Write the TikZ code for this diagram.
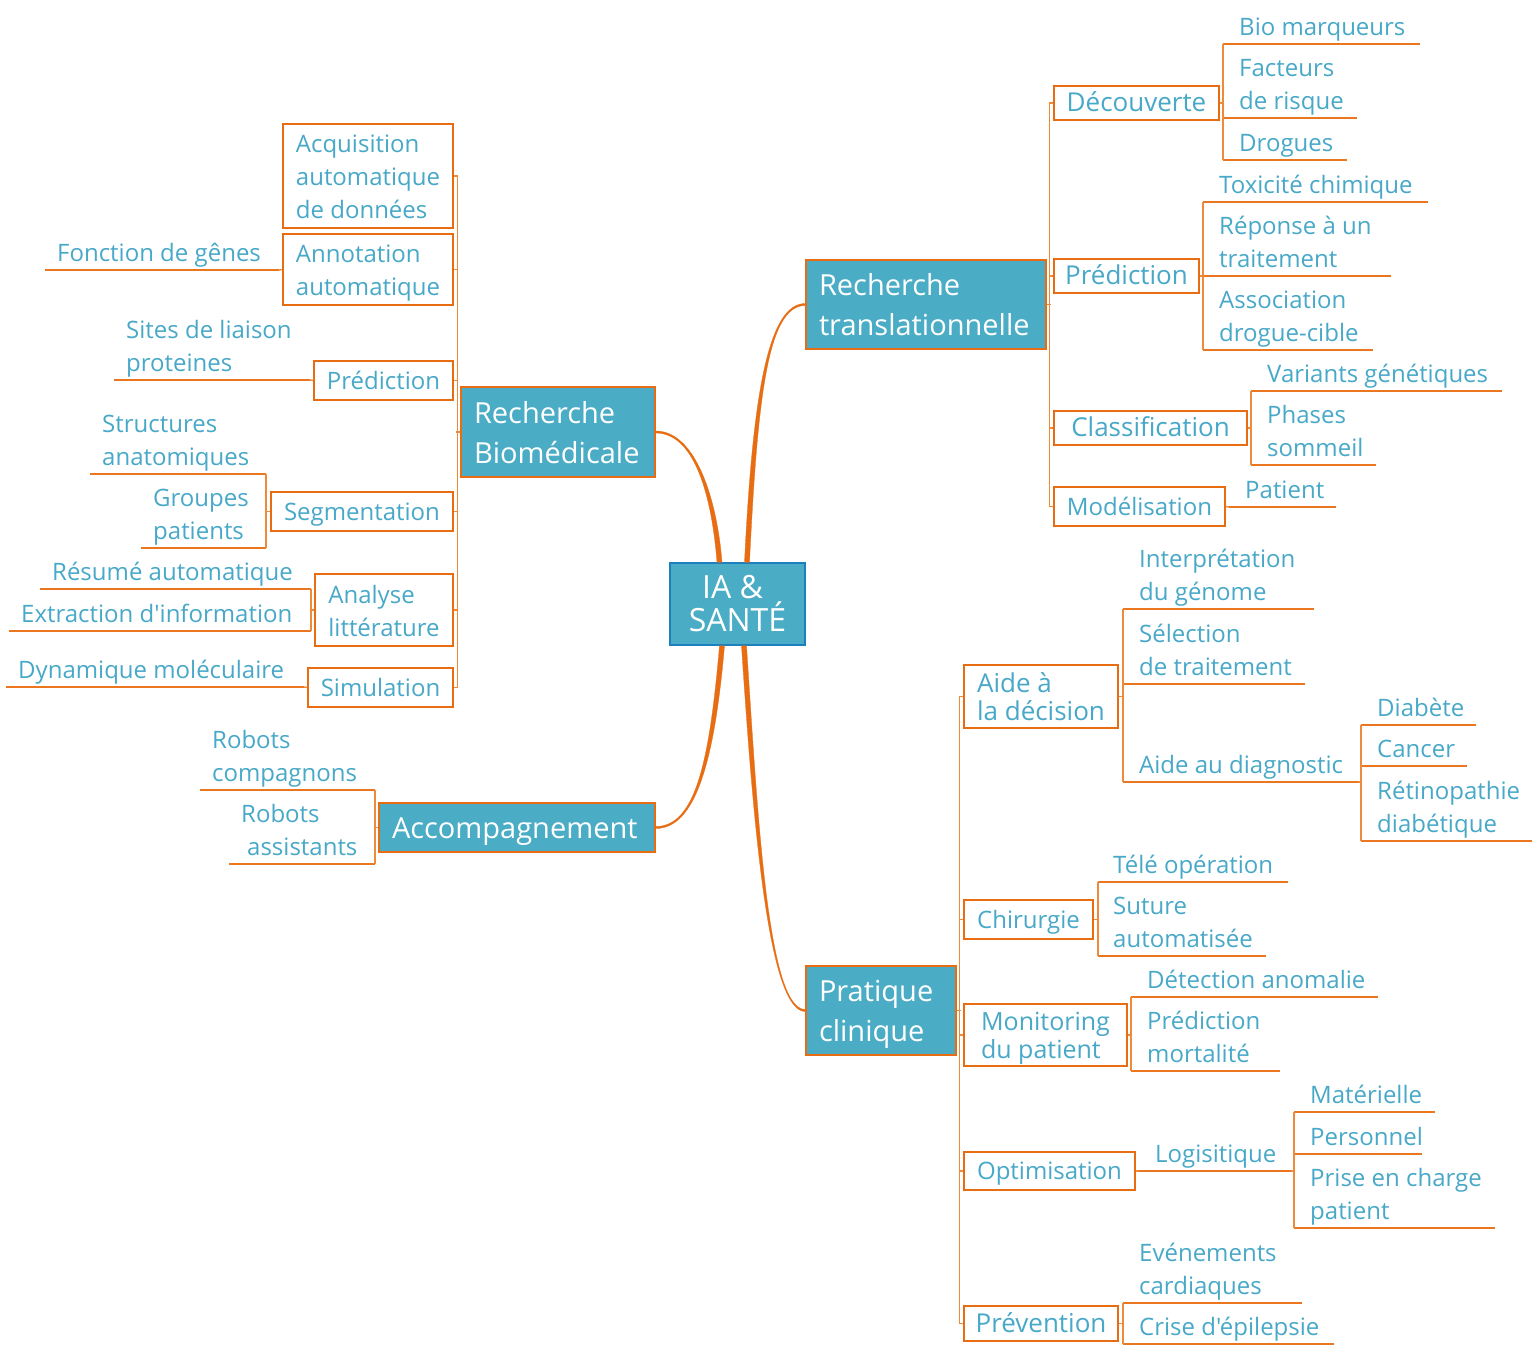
\documentclass[tikz,border=0pt]{standalone}
\usepackage{fontspec}
\setmainfont{Open Sans}[Ligatures=TeXOff]
\usetikzlibrary{calc}
\definecolor{tblue}{RGB}{72,168,200}
\definecolor{fblue}{RGB}{75,172,198}
\definecolor{bor}{RGB}{232,108,18}
\definecolor{uor}{RGB}{234,118,32}
\definecolor{lor}{RGB}{238,138,58}
\definecolor{cbor}{RGB}{28,128,192}
\newcommand\fsub{\fontsize{24}{33}\selectfont}
\newcommand\fsubL{\fontsize{26}{33}\selectfont}
\newcommand\fsubLt{\fontsize{26}{28}\selectfont}
\newcommand\fsubMt{\fontsize{25}{28}\selectfont}
\newcommand\fmain{\fontsize{29}{40}\selectfont}
\newcommand\fcen{\fontsize{32}{33}\selectfont}
\newcommand\strA{\rule{0pt}{26pt}}
\newcommand\strM{\rule{0pt}{30pt}}
\begin{document}
\begin{tikzpicture}[x=1pt,y=-1pt,
  mainn/.style={draw=bor, line width=1.5pt, fill=fblue, text=white, font=\fmain, align=left, inner xsep=13pt, inner ysep=0pt,
    execute at begin node={\rule{0pt}{29pt}}, execute at end node={\rule[-8pt]{0pt}{8pt}}},
  cen/.style={mainn, draw=cbor, font=\fcen, align=center, inner xsep=0pt},
  sub/.style={draw=bor, line width=1.5pt, fill=white, text=tblue, font=\fsub, align=left, inner sep=0pt,
    execute at begin node={\rule{0pt}{24pt}}, execute at end node={\rule[-7pt]{0pt}{7pt}}},
  leaf/.style={anchor=south west, inner ysep=0pt, align=left, text=tblue, font=\fsub,
    execute at end node={\rule[-8.5pt]{0pt}{8.5pt}}},
  leafR/.style={leaf, inner xsep=16pt},
  leafL/.style={leaf, inner xsep=12pt},
  ul/.style={draw=uor, line width=2pt},
  br/.style={draw=lor, line width=1.4pt},
  spine/.style={draw=lor, line width=1.4pt},
  taper/.style={fill=bor, draw=bor, line width=0.3pt}
]
\useasboundingbox (0,0) rectangle (1539,1350);

% centre and main topics
\node[cen, minimum width=135pt, minimum height=82pt] (c) at (737.5,604) {\strM IA \&\hspace*{10pt}\\SANTÉ};
\node[mainn, text width=214pt, minimum height=89pt] (rt) at (926,304.5) {\strM Recherche\\translationnelle};
\node[mainn, text width=168pt, minimum height=90pt] (rb) at (558,432) {\strM Recherche\\Biomédicale};
\node[mainn, text width=250pt, minimum height=49pt] (acc) at (517,827.5) {Accompagnement};
\node[mainn, text width=124pt, minimum height=89pt] (pc) at (881,1010.5) {\strM Pratique\\clinique};

% sub topics: recherche translationnelle
\node[sub, font=\fsubL, minimum width=165pt, minimum height=34pt] (dec) at (1136.5,103) {Découverte};
\node[sub, font=\fsubL, minimum width=145pt, minimum height=34pt] (pre2) at (1126.5,276) {Prédiction};
\node[sub, font=\fsubL, minimum width=193pt, minimum height=34pt] (cla) at (1150.5,428) {Classification};
\node[sub, minimum width=171pt, minimum height=39pt] (mod) at (1139.5,506.5) {Modélisation};
% sub topics: recherche biomedicale
\node[sub, minimum width=170pt, minimum height=104pt] (acq) at (368,176) {\strA Acquisition\\automatique\\de données};
\node[sub, minimum width=170pt, minimum height=71pt] (ann) at (368,269.5) {\strA Annotation\\automatique};
\node[sub, minimum width=139pt, minimum height=39pt] (pre1) at (383.5,380.5) {Prédiction};
\node[sub, minimum width=182pt, minimum height=39pt] (seg) at (362,511.5) {Segmentation};
\node[sub, minimum width=138pt, minimum height=72pt] (ana) at (384,610) {\strA Analyse\\littérature};
\node[sub, minimum width=145pt, minimum height=39pt] (sim) at (380.5,687.5) {Simulation};
% sub topics: pratique clinique
\node[sub, font=\fsubLt, minimum width=154pt, minimum height=63pt] (ad) at (1041,696.5) {\strA Aide à\\la décision};
\node[sub, minimum width=129pt, minimum height=39pt] (chi) at (1028.5,919.5) {Chirurgie};
\node[sub, font=\fsubMt, minimum width=163pt, minimum height=62pt] (mon) at (1045.5,1035) {\strA Monitoring\\du patient};
\node[sub, minimum width=171pt, minimum height=38pt] (opt) at (1049.5,1171) {Optimisation};
\node[sub, font=\fsubL, minimum width=154pt, minimum height=35pt] (prev) at (1041,1323.5) {Prévention};

% leaves right
\node[leafR] (bio) at (1223,44) {Bio marqueurs};
\node[leafR] (fac) at (1223,118) {Facteurs\\de risque};
\node[leafR] (dro) at (1223,160) {Drogues};
\node[leafR] (tox) at (1203,202) {Toxicité chimique};
\node[leafR] (rep) at (1203,276) {Réponse à un\\traitement};
\node[leafR] (ass) at (1203,350) {Association\\drogue-cible};
\node[leafR] (var) at (1251,391) {Variants génétiques};
\node[leafR] (pha) at (1251,465) {Phases\\sommeil};
\node[leafR] (pat) at (1229,507) {Patient};
\node[leafR] (int) at (1123,609) {Interprétation\\du génome};
\node[leafR] (sel) at (1123,684) {Sélection\\de traitement};
\node[leafR] (aid) at (1123,782) {Aide au diagnostic};
\node[leafR] (dia) at (1361,725) {Diabète};
\node[leafR] (can) at (1361,766) {Cancer};
\node[leafR] (ret) at (1361,841) {Rétinopathie\\diabétique};
\node[leafR, inner xsep=15pt] (tel) at (1098,882) {Télé opération};
\node[leafR, inner xsep=15pt] (sut) at (1098,956) {Suture\\automatisée};
\node[leafR] (det) at (1131,997) {Détection anomalie};
\node[leafR] (pm) at (1131,1071) {Prédiction\\mortalité};
\node[leafR] (log) at (1139,1171) {Logisitique};
\node[leafR] (mat) at (1294,1112) {Matérielle};
\node[leafR] (per) at (1294,1154) {Personnel};
\node[leafR] (pri) at (1294,1228) {Prise en charge\\patient};
\node[leafR] (eve) at (1123,1303) {Evénements\\cardiaques};
\node[leafR] (cri) at (1123,1344) {Crise d'épilepsie};
% leaves left
\node[leafL] (fon) at (45,270) {Fonction de gênes};
\node[leafL] (sit) at (114,380) {Sites de liaison\\proteines};
\node[leafL] (str) at (90,474) {Structures\\anatomiques};
\node[leafL] (gro) at (141,548) {Groupes\\patients};
\node[leafL] (res) at (40,589) {Résumé automatique};
\node[leafL] (ext) at (9,631) {Extraction d'information};
\node[leafL] (dyn) at (6,687) {Dynamique moléculaire};
\node[leafL] (rco) at (200,790) {Robots\\compagnons};
\node[leafL] (ras) at (229,864) {Robots\\\hspace*{6pt}assistants};

% underlines
\draw[ul] (bio.south west) -- ++(197,0);
\draw[ul] (fac.south west) -- ++(134,0);
\draw[ul] (dro.south west) -- ++(124,0);
\draw[ul] (tox.south west) -- ++(225,0);
\draw[ul] (rep.south west) -- ++(188,0);
\draw[ul] (ass.south west) -- ++(170,0);
\draw[ul] (var.south west) -- ++(251,0);
\draw[ul] (pha.south west) -- ++(125,0);
\draw[ul] (pat.south west) -- ++(107,0);
\draw[ul] (int.south west) -- ++(191,0);
\draw[ul] (sel.south west) -- ++(182,0);
\draw[ul] (aid.south west) -- ++(235,0) coordinate (aid-e);
\draw[ul] (dia.south west) -- ++(115,0);
\draw[ul] (can.south west) -- ++(106,0);
\draw[ul] (ret.south west) -- ++(171,0);
\draw[ul] (tel.south west) -- ++(190,0);
\draw[ul] (sut.south west) -- ++(168,0);
\draw[ul] (det.south west) -- ++(247,0);
\draw[ul] (pm.south west) -- ++(149,0);
\draw[ul] (log.south west) -- ++(152,0) coordinate (log-e);
\draw[ul] (mat.south west) -- ++(141,0);
\draw[ul] (per.south west) -- ++(128,0);
\draw[ul] (pri.south west) -- ++(201,0);
\draw[ul] (eve.south west) -- ++(179,0);
\draw[ul] (cri.south west) -- ++(211,0);
\draw[ul] (fon.south west) -- ++(234,0) coordinate (fon-e);
\draw[ul] (sit.south west) -- ++(196,0) coordinate (sit-e);
\draw[ul] (str.south west) -- ++(176,0) coordinate (str-e);
\draw[ul] (gro.south west) -- ++(125,0) coordinate (gro-e);
\draw[ul] (res.south west) -- ++(271,0) coordinate (res-e);
\draw[ul] (ext.south west) -- ++(302,0) coordinate (ext-e);
\draw[ul] (dyn.south west) -- ++(298,0) coordinate (dyn-e);
\draw[ul] (rco.south west) -- ++(175,0) coordinate (rco-e);
\draw[ul] (ras.south west) -- ++(146,0) coordinate (ras-e);

% brackets
\draw[br] (bio.south west) -- (dro.south west);
\draw[br] (dec.east) -- (dec.east -| bio.south west);
\draw[br] (tox.south west) -- (ass.south west);
\draw[br] (pre2.east) -- (pre2.east -| tox.south west);
\draw[br] (var.south west) -- (pha.south west);
\draw[br] (cla.east) -- (cla.east -| var.south west);
\draw[br] (mod.east) -- (pat.south west);
\draw[br] (int.south west) -- (aid.south west);
\draw[br] (ad.east) -- (ad.east -| int.south west);
\draw[br] (dia.south west) -- (ret.south west);
\draw[br] (aid-e) -- (aid-e -| dia.south west);
\draw[br] (tel.south west) -- (sut.south west);
\draw[br] (chi.east) -- (chi.east -| tel.south west);
\draw[br] (det.south west) -- (pm.south west);
\draw[br] (mon.east) -- (mon.east -| det.south west);
\draw[br] (opt.east) -- (log.south west);
\draw[br] (mat.south west) -- (pri.south west);
\draw[br] (log-e) -- (log-e -| mat.south west);
\draw[br] (eve.south west) -- (cri.south west);
\draw[br] (prev.east) -- (prev.east -| eve.south west);
\draw[br] (fon-e) -- (ann.west);
\draw[br] (sit-e) -- (pre1.west);
\draw[br] (str-e) -- (gro-e);
\draw[br] (seg.west) -- (seg.west -| str-e);
\draw[br] (res-e) -- (ext-e);
\draw[br] (ana.west) -- (ana.west -| res-e);
\draw[br] (dyn-e) -- (sim.west);
\draw[br] (rco-e) -- (ras-e);
\draw[br] (acc.west) -- (acc.west -| rco-e);

% spines
\draw[spine] (dec.west) -- ++(-4,0) |- (mod.west);
\draw[spine] (pre2.west) -- ++(-4,0);
\draw[spine] (cla.west) -- ++(-4,0);
\draw[spine] (rt.east) -- ++(4,0);
\draw[spine] (acq.east) -- ++(4,0) |- (sim.east);
\draw[spine] (ann.east) -- ++(4,0);
\draw[spine] (pre1.east) -- ++(4,0);
\draw[spine] (seg.east) -- ++(4,0);
\draw[spine] (ana.east) -- ++(4,0);
\draw[spine] (rb.west) -- ++(-4,0);
\draw[spine] (ad.west) -- ++(-4,0) |- (prev.west);
\draw[spine] (chi.west) -- ++(-4,0);
\draw[spine] (mon.west) -- ++(-4,0);
\draw[spine] (opt.west) -- ++(-4,0);
\draw[spine] (pc.east) -- ++(4,0);

% main tapered curves
\coordinate (a1) at ([xshift=-18pt]c.north);
\coordinate (b1) at (rb.east);
\coordinate (a2) at ([xshift=9.5pt]c.north);
\coordinate (b2) at (rt.west);
\coordinate (a3) at ([xshift=-15.5pt]c.south);
\coordinate (b3) at (acc.east);
\coordinate (a4) at ([xshift=6.5pt]c.south);
\coordinate (b4) at (pc.west);
\path[taper] ($(a1)+(-2.5,0)$) .. controls ($(a1)+(-7.5,-63)$) and ($(b1)+(40,1)$) .. ($(b1)+(0,1)$)
  -- ($(b1)+(0,-1)$) .. controls ($(b1)+(40,-1)$) and ($(a1)+(-2.5,-63)$) .. ($(a1)+(2.5,0)$) -- cycle;
\path[taper] ($(a2)+(-2.5,0)$) .. controls ($(a2)+(5.5,-163)$) and ($(b2)+(-38,-1)$) .. ($(b2)+(0,-1)$)
  -- ($(b2)+(0,1)$) .. controls ($(b2)+(-38,1)$) and ($(a2)+(10.5,-163)$) .. ($(a2)+(2.5,0)$) -- cycle;
\path[taper] ($(a3)+(-2.5,0)$) .. controls ($(a3)+(-12.5,115)$) and ($(b3)+(40,-1)$) .. ($(b3)+(0,-1)$)
  -- ($(b3)+(0,1)$) .. controls ($(b3)+(40,1)$) and ($(a3)+(-7.5,115)$) .. ($(a3)+(2.5,0)$) -- cycle;
\path[taper] ($(a4)+(-2.5,0)$) .. controls ($(a4)+(8.5,165)$) and ($(b4)+(-38,1)$) .. ($(b4)+(0,1)$)
  -- ($(b4)+(0,-1)$) .. controls ($(b4)+(-38,-1)$) and ($(a4)+(13.5,165)$) .. ($(a4)+(2.5,0)$) -- cycle;
\end{tikzpicture}
\end{document}
